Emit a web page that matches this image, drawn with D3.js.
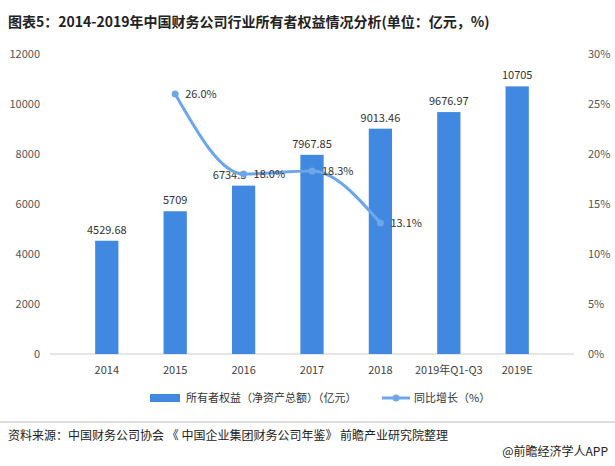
<!DOCTYPE html>
<html><head><meta charset="utf-8">
<script src="https://cdn.jsdelivr.net/npm/d3@7"></script>
<style>body{margin:0;background:#fff;font-family:"Noto Sans CJK SC","Noto Sans",sans-serif}</style>
</head><body><div id="chart"></div>
<script>
const categories = ["2014","2015","2016","2017","2018","2019年Q1-Q3","2019E"]
const equity = [4529.68, 5709, 6734.3, 7967.85, 9013.46, 9676.97, 10705]
const equityLabels = ["4529.68","5709","6734.3","7967.85","9013.46","9676.97","10705"]
const growth = [null, 26.0, 18.0, 18.3, 13.1, null, null]
const leftTicks = [0,2000,4000,6000,8000,10000,12000]
const rightTicks = [0,5,10,15,20,25,30]

const W = 615, H = 466
const svg = d3.select("#chart").append("svg").attr("width", W).attr("height", H)

svg.append("text").attr("x", 8).attr("y", 27)
	.attr("font-size", 14).attr("font-weight", "bold").attr("fill", "#222")
	.text("图表5：2014-2019年中国财务公司行业所有者权益情况分析(单位：亿元，%)")

const x = d3.scaleBand().domain(categories).range([50, 574]).padding(0.66)
const y = d3.scaleLinear().domain([0, 12000]).range([354, 54])
const y2 = d3.scaleLinear().domain([0, 30]).range([354, 54])

svg.selectAll(".lt").data(leftTicks).enter().append("text")
	.attr("x", 40).attr("y", d => y(d) + 4).attr("text-anchor", "end")
	.attr("font-size", 11).attr("fill", "#555").text(d => d)
svg.selectAll(".rt").data(rightTicks).enter().append("text")
	.attr("x", 588).attr("y", d => y2(d) + 4)
	.attr("font-size", 11).attr("fill", "#555").text(d => d + "%")

svg.append("line").attr("x1", 50).attr("x2", 574).attr("y1", y(0)).attr("y2", y(0))
	.attr("stroke", "#ccc")

// bars
svg.selectAll(".bar").data(equity).enter().append("rect")
	.attr("x", (d, i) => x(categories[i])).attr("width", x.bandwidth())
	.attr("y", d => y(d)).attr("height", d => y(0) - y(d)).attr("fill", "#4088e0")
svg.selectAll(".bl").data(equity).enter().append("text")
	.attr("x", (d, i) => x(categories[i]) + x.bandwidth() / 2 - (i == 2 ? 14 : 0)).attr("y", d => y(d) - 7)
	.attr("text-anchor", "middle").attr("font-size", 11).attr("fill", "#333")
	.text((d, i) => equityLabels[i])

svg.selectAll(".xl").data(categories).enter().append("text")
	.attr("x", d => x(d) + x.bandwidth() / 2).attr("y", 374)
	.attr("text-anchor", "middle").attr("font-size", 11).attr("fill", "#444").text(d => d)

// line
const pts = growth.map((g, i) => ({ c: categories[i], g })).filter(d => d.g != null)
const cx = d => x(d.c) + x.bandwidth() / 2
const line = d3.line().x(cx).y(d => y2(d.g)).curve(d3.curveMonotoneX)
svg.append("path").datum(pts).attr("d", line).attr("fill", "none")
	.attr("stroke", "#6ea6ea").attr("stroke-width", 3)
svg.selectAll(".pt").data(pts).enter().append("circle")
	.attr("cx", cx).attr("cy", d => y2(d.g)).attr("r", 3.5).attr("fill", "#6ea6ea")
svg.selectAll(".pl").data(pts).enter().append("text")
	.attr("x", d => cx(d) + 10).attr("y", d => y2(d.g) + 4)
	.attr("font-size", 11).attr("fill", "#333").text(d => d.g.toFixed(1) + "%")

// legend
svg.append("rect").attr("x", 150).attr("y", 394).attr("width", 30).attr("height", 8).attr("fill", "#4088e0")
svg.append("text").attr("x", 186).attr("y", 402).attr("font-size", 11).attr("fill", "#333")
	.text("所有者权益（净资产总额）（亿元）")
svg.append("line").attr("x1", 382).attr("x2", 410).attr("y1", 398).attr("y2", 398)
	.attr("stroke", "#6ea6ea").attr("stroke-width", 3)
svg.append("circle").attr("cx", 396).attr("cy", 398).attr("r", 3.5).attr("fill", "#6ea6ea")
svg.append("text").attr("x", 414).attr("y", 402).attr("font-size", 11).attr("fill", "#333")
	.text("同比增长（%）")

svg.append("line").attr("x1", 0).attr("x2", W).attr("y1", 422).attr("y2", 422).attr("stroke", "#bbb")
svg.append("text").attr("x", 8).attr("y", 440).attr("font-size", 12).attr("fill", "#222")
	.text("资料来源：中国财务公司协会 《 中国企业集团财务公司年鉴》 前瞻产业研究院整理")
svg.append("text").attr("x", 608).attr("y", 456).attr("text-anchor", "end")
	.attr("font-size", 12).attr("fill", "#222").text("@前瞻经济学人APP")
</script></body></html>
